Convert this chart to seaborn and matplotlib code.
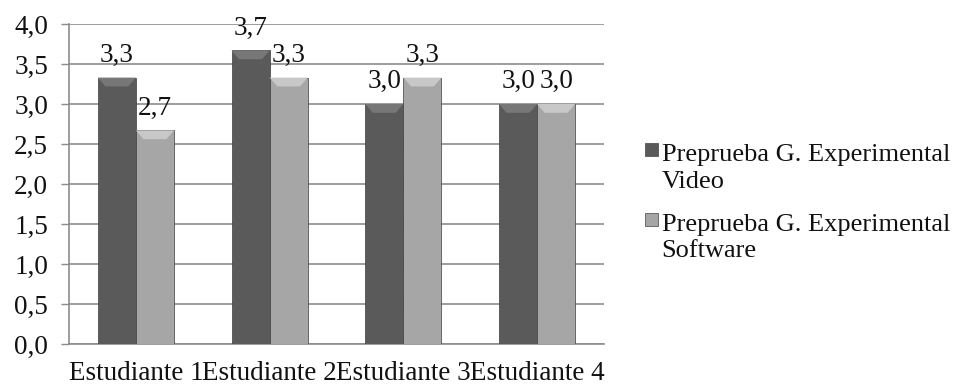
import numpy as np
import pandas as pd
import seaborn as sns
import matplotlib.pyplot as plt
from matplotlib.patches import Polygon, Rectangle
from matplotlib.legend_handler import HandlerPatch

# Data
estudiantes = ["Estudiante 1", "Estudiante 2", "Estudiante 3", "Estudiante 4"]
video = [3.33, 3.67, 3.00, 3.00]
software = [2.67, 3.33, 3.33, 3.00]
series = ["Preprueba G. Experimental\nVideo", "Preprueba G. Experimental\nSoftware"]
y_ticks = [0.0, 0.5, 1.0, 1.5, 2.0, 2.5, 3.0, 3.5, 4.0]

colors = ["#5a5a5a", "#a6a6a6"]
bevel_colors = ["#777777", "#c8c8c8"]
grid_color = "#8c8c8c"

sns.set_theme(style="white")
plt.rcParams["font.family"] = ["Liberation Serif", "DejaVu Serif"]
FS = 19.5
LEG_FS = 19


def coma(v):
    return f"{v:.1f}".replace(".", ",")


df = pd.DataFrame({
    "Estudiante": estudiantes * 2,
    "Puntaje": video + software,
    "Grupo": [series[0]] * len(video) + [series[1]] * len(software),
})

fig = plt.figure(figsize=(9.58, 3.88), dpi=100)
ax = fig.add_axes([69 / 958, 44 / 388, 535 / 958, 320 / 388])

sns.barplot(data=df, x="Estudiante", y="Puntaje", hue="Grupo",
            palette=colors, saturation=1, width=0.57, gap=0,
            edgecolor="#3c3c3c", linewidth=0.5, legend=False,
            zorder=3, ax=ax)

# bevelled top on every bar
n = len(estudiantes)
for i, p in enumerate(ax.patches):
    x0, w, h = p.get_x(), p.get_width(), p.get_height()
    dx, dy = 0.2 * w, 0.11
    poly = Polygon([(x0, h), (x0 + w, h), (x0 + w - dx, h - dy), (x0 + dx, h - dy)],
                   closed=True, facecolor=bevel_colors[i // n], edgecolor="none",
                   zorder=4)
    ax.add_patch(poly)

for c in ax.containers:
    ax.bar_label(c, fmt=coma, padding=7, fontsize=FS, color="#111111")

ax.set_ylim(0, 4.0)
ax.set_xlim(-0.5, n - 0.5)
ax.set_yticks(y_ticks)
ax.set_yticklabels([coma(t) for t in y_ticks], fontsize=FS)
ax.set_xticks(range(n))
ax.set_xticklabels(estudiantes, fontsize=FS)
ax.set_xticks(np.arange(-0.5, n, 1.0), minor=True)
ax.tick_params(axis="x", which="major", length=0, pad=12, colors="#111111")
ax.tick_params(axis="x", which="minor", length=6, width=1, color=grid_color)
ax.tick_params(axis="y", length=6, width=1, color=grid_color, pad=9,
               labelcolor="#111111", left=True)
ax.set_xlabel("")
ax.set_ylabel("")
ax.yaxis.grid(True, color=grid_color, linewidth=1.2)
ax.set_axisbelow(True)
for s in ["top", "right"]:
    ax.spines[s].set_visible(False)
for s in ["left", "bottom"]:
    ax.spines[s].set_color(grid_color)
    ax.spines[s].set_linewidth(1.2)


class FirstLineSquare(HandlerPatch):
    def create_artists(self, legend, orig_handle, xdescent, ydescent,
                       width, height, fontsize, trans):
        s = 0.5 * fontsize
        p = Rectangle((-xdescent + width - s, -ydescent + height / 2 - s / 2 + 0.68 * fontsize),
                      s, s, facecolor=orig_handle.get_facecolor(),
                      edgecolor="#444444", linewidth=0.5, transform=trans)
        return [p]


handles = [Rectangle((0, 0), 1, 1, facecolor=c) for c in colors]
leg = fig.legend(handles, series, loc="upper left",
                 bbox_to_anchor=(624 / 958, 1 - 131 / 388),
                 frameon=False, fontsize=LEG_FS, handlelength=0.78,
                 handletextpad=0.15, labelspacing=0.8, borderpad=0,
                 handler_map={Rectangle: FirstLineSquare()})
for t in leg.get_texts():
    t.set_linespacing(1.27)
    t.set_color("#111111")

fig.savefig("out.png", dpi=100)
